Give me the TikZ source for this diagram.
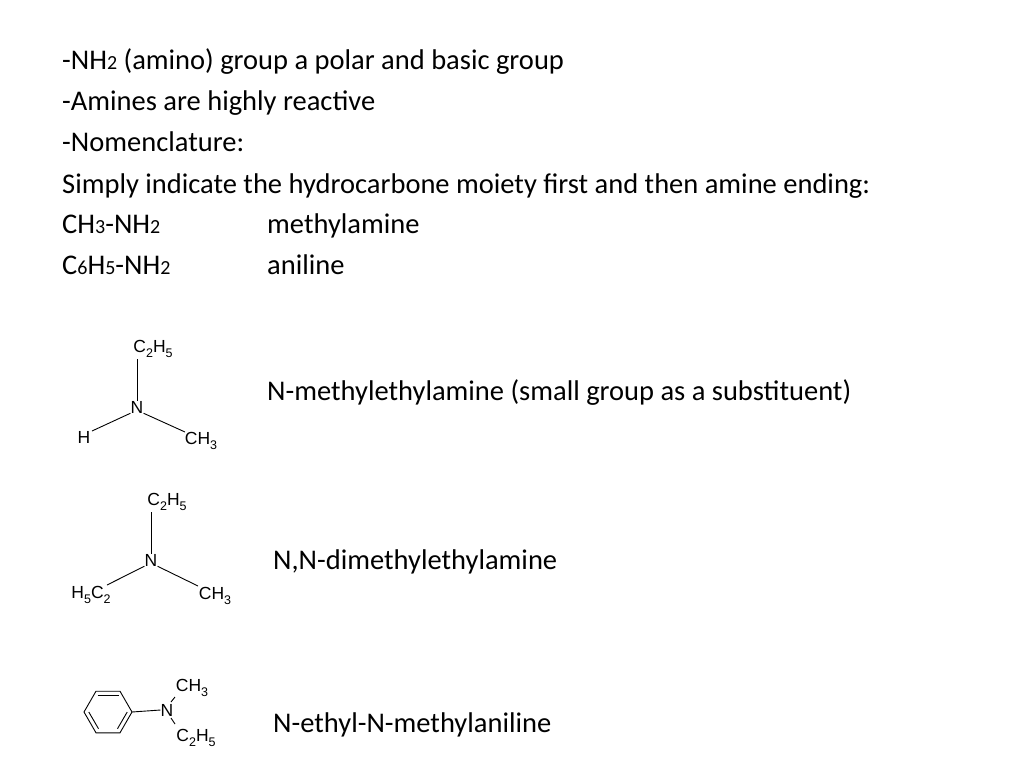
\documentclass[tikz,border=0pt]{standalone}
\usepackage{fontspec}
\setmainfont{Carlito}
\newfontfamily\arialf{Liberation Sans}
\begin{document}
\begin{tikzpicture}[x=1pt,y=-1pt,
  txt/.style={anchor=base west,inner sep=0pt,font=\fontsize{28.5}{32}\selectfont},
  chem/.style={inner sep=0pt,font=\arialf\fontsize{17.5}{20}\selectfont},
  bond/.style={line width=0.9pt}]
\useasboundingbox (0,0) rectangle (1024,768);
\newcommand{\sm}[1]{{\fontsize{20}{22}\selectfont #1}}
\newcommand{\sbs}[1]{\raisebox{-0.3em}{\fontsize{12.5}{14}\selectfont #1}}
\node[txt] (l1) at (62,70) {-NH\sm{2} (amino) group a polar and basic group};
\node[txt] (l2) at (62,110) {-Amines are highly reactive};
\node[txt] (l3) at (62,151) {-Nomenclature:};
\node[txt] (l4) at (62,193) {Simply indicate the hydrocarbone moiety first and then amine ending:};
\node[txt] (l5) at (62,233) {CH\sm{3}-NH\sm{2}};
\node[txt] (l5b) at (267,233) {methylamine};
\node[txt] (l6) at (62,274) {C\sm{6}H\sm{5}-NH\sm{2}};
\node[txt] (l6b) at (267,274) {aniline};
\node[txt] (n1) at (267,400) {N-methylethylamine (small group as a substituent)};
\node[txt] (n2) at (273,569) {N,N-dimethylethylamine};
\node[txt] (n3) at (273,732) {N-ethyl-N-methylaniline};
% structure 1
\node[chem] (a) at (153,349) {C\sbs{2}H\sbs{5}};
\node[chem] (aN) at (137,407) {N};
\node[chem] (aH) at (84,437) {H};
\node[chem] (aC) at (201,441) {CH\sbs{3}};
\draw[bond] (137,359) -- (aN.north);
\draw[bond] (aN.south west) -- (92,431);
\draw[bond] (aN.south east) -- (185,432);
% structure 2
\node[chem] (b) at (167,502) {C\sbs{2}H\sbs{5}};
\node[chem] (bN) at (151,560) {N};
\node[chem] (bL) at (91,595) {H\sbs{5}C\sbs{2}};
\node[chem] (bC) at (215,596) {CH\sbs{3}};
\draw[bond] (151,512) -- (bN.north);
\draw[bond] (bN.south west) -- (107,585);
\draw[bond] (bN.south east) -- (198,586);
% structure 3
\draw[bond] (132,712) -- (120,691.2) -- (96,691.2) -- (84,712) -- (96,732.8) -- (120,732.8) -- cycle;
\draw[bond] (97.5,695.5) -- (118.5,695.5);
\draw[bond] (88.8,712) -- (98.5,728.7);
\draw[bond] (117.5,728.7) -- (127.2,712);
\node[chem] (cN) at (167,710) {N};
\node[chem] (cT) at (192,688) {CH\sbs{3}};
\node[chem] (cB) at (196,738) {C\sbs{2}H\sbs{5}};
\draw[bond] (132,712) -- (cN.west);
\draw[bond] (171,702) -- (175,697);
\draw[bond] (171,718) -- (175,724);
\end{tikzpicture}
\end{document}
